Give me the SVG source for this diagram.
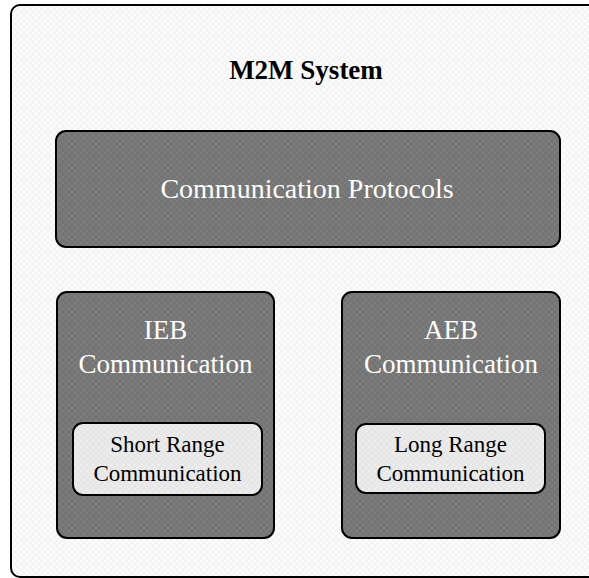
<svg xmlns="http://www.w3.org/2000/svg" width="589" height="578" viewBox="0 0 589 578">
  <defs>
    <!-- fine crosshatch textures -->
    <pattern id="hatchLight" width="6" height="6" patternUnits="userSpaceOnUse">
      <rect width="6" height="6" fill="#f4f4f4"/>
      <path d="M0,0 L6,6 M6,0 L0,6" stroke="#ffffff" stroke-width="1"/>
    </pattern>
    <pattern id="hatchDark" width="6" height="6" patternUnits="userSpaceOnUse">
      <rect width="6" height="6" fill="#747474"/>
      <path d="M0,0 L6,6 M6,0 L0,6" stroke="#7e7e7e" stroke-width="1"/>
    </pattern>
    <pattern id="hatchPale" width="6" height="6" patternUnits="userSpaceOnUse">
      <rect width="6" height="6" fill="#e6e6e6"/>
      <path d="M0,0 L6,6 M6,0 L0,6" stroke="#eeeeee" stroke-width="1"/>
    </pattern>
  </defs>
  <style>
    .frame { fill: url(#hatchLight); stroke: #000; stroke-width: 2; }
    .dark { fill: url(#hatchDark); stroke: #000; stroke-width: 2; }
    .pale { fill: url(#hatchPale); stroke: #000; stroke-width: 2; }
    text { font-family: "Liberation Serif", "Times New Roman", serif; text-anchor: middle; }
    .title { font-size: 27px; font-weight: bold; fill: #000; }
    .big { font-size: 28px; fill: #fff; }
    .mid { font-size: 27px; fill: #fff; }
    .small { font-size: 23px; fill: #000; }
  </style>
  <rect width="589" height="578" fill="#ffffff"/>

  <g id="m2m-system">
    <rect class="frame" x="11" y="5" width="600" height="572" rx="9"/>
    <text class="title" x="306" y="79">M2M System</text>
  </g>

  <g id="communication-protocols">
    <rect class="dark" x="56" y="131" width="504" height="116" rx="10"/>
    <text class="big" x="307" y="198">Communication Protocols</text>
  </g>

  <g id="ieb-communication">
    <rect class="dark" x="57" y="292" width="217" height="246" rx="10"/>
    <text class="mid" x="165.5" y="339">IEB</text>
    <text class="mid" x="165.5" y="373">Communication</text>
  </g>

  <g id="short-range">
    <rect class="pale" x="73" y="423" width="189" height="72" rx="10"/>
    <text class="small" x="167.5" y="452">Short Range</text>
    <text class="small" x="167.5" y="481">Communication</text>
  </g>

  <g id="aeb-communication">
    <rect class="dark" x="342" y="292" width="218" height="246" rx="10"/>
    <text class="mid" x="451" y="339">AEB</text>
    <text class="mid" x="451" y="373">Communication</text>
  </g>

  <g id="long-range">
    <rect class="pale" x="356" y="424" width="189" height="69" rx="10"/>
    <text class="small" x="450.5" y="452">Long Range</text>
    <text class="small" x="450.5" y="481">Communication</text>
  </g>

  <g id="connectors"/>
</svg>
